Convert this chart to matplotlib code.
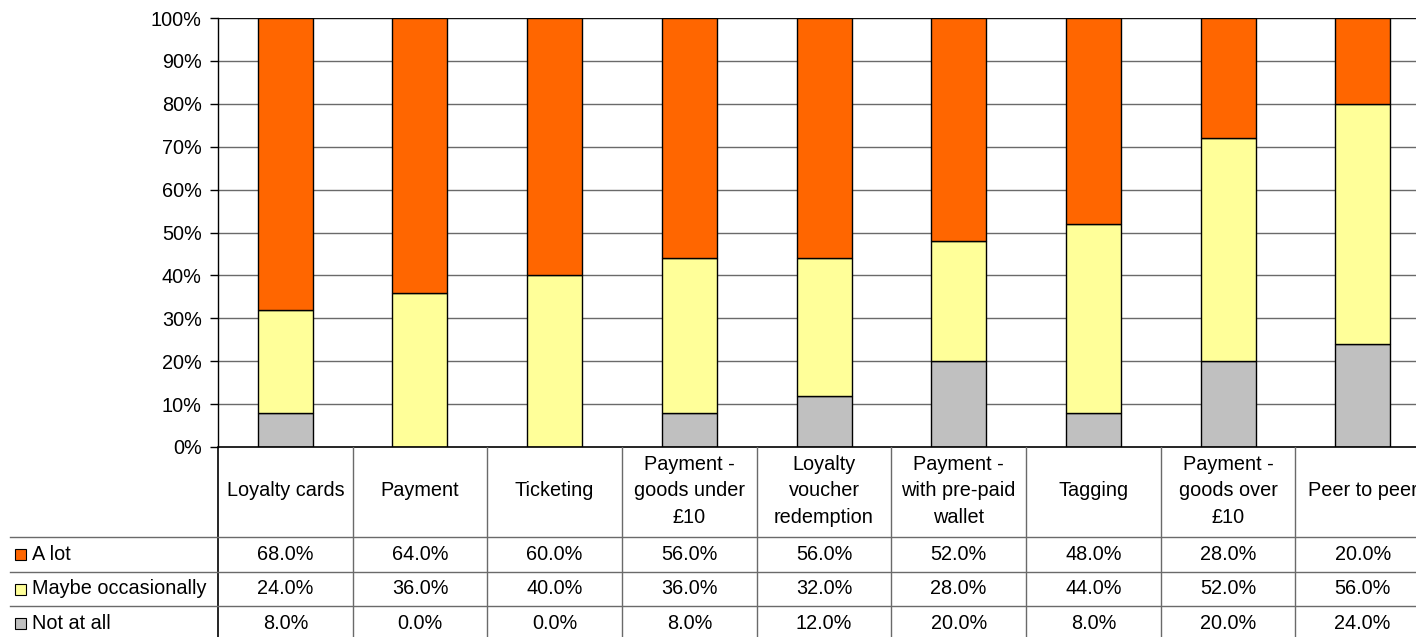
import matplotlib.pyplot as plt
import numpy as np

plt.rcParams["font.family"] = ["Liberation Sans", "DejaVu Sans"]

categories = [
    "Loyalty cards",
    "Payment",
    "Ticketing",
    "Payment -\ngoods under\n£10",
    "Loyalty\nvoucher\nredemption",
    "Payment -\nwith pre-paid\nwallet",
    "Tagging",
    "Payment -\ngoods over\n£10",
    "Peer to peer",
]
a_lot = [68.0, 64.0, 60.0, 56.0, 56.0, 52.0, 48.0, 28.0, 20.0]
maybe_occasionally = [24.0, 36.0, 40.0, 36.0, 32.0, 28.0, 44.0, 52.0, 56.0]
not_at_all = [8.0, 0.0, 0.0, 8.0, 12.0, 20.0, 8.0, 20.0, 24.0]
series_names = ["A lot", "Maybe occasionally", "Not at all"]
series_colors = ["#FF6600", "#FFFF99", "#C0C0C0"]
y_ticks = [0, 10, 20, 30, 40, 50, 60, 70, 80, 90, 100]

W, H = 1416, 637
FS = 14.3
GRID = "#6a6a6a"

# plot area in pixels; it runs past the right edge of the canvas
left, right, top, bottom = 218, 1430, 18, 447
unit = (right - left) / len(categories)

fig = plt.figure(figsize=(W / 100, H / 100), dpi=100)
ax = fig.add_axes([left / W, (H - bottom) / H, (right - left) / W, (bottom - top) / H])

x = np.arange(len(categories))
bar_w = 55 / unit
ax.bar(x, not_at_all, bar_w, color=series_colors[2], edgecolor="black", linewidth=1, zorder=3)
ax.bar(x, maybe_occasionally, bar_w, bottom=not_at_all, color=series_colors[1],
       edgecolor="black", linewidth=1, zorder=3)
ax.bar(x, a_lot, bar_w, bottom=np.add(not_at_all, maybe_occasionally), color=series_colors[0],
       edgecolor="black", linewidth=1, zorder=3)

ax.set_xlim(-0.5, len(categories) - 0.5)
ax.set_ylim(0, 100)
ax.set_yticks(y_ticks)
ax.set_yticklabels([f"{t}%" for t in y_ticks], fontsize=FS)
ax.set_xticks([])
ax.tick_params(axis="y", length=5.8, width=1, color="black", pad=6)
for t in y_ticks[1:]:
    ax.axhline(t, color="#111111" if t == 100 else GRID, linewidth=1, zorder=1)
for side in ("top", "right", "bottom"):
    ax.spines[side].set_visible(False)
ax.spines["left"].set_color("black")
ax.spines["left"].set_linewidth(1)
ax.axhline(0, color="black", linewidth=1.2, zorder=4, clip_on=False)

# data table under the bars, x in category units, y in pixels below the plot
tab = fig.add_axes([0, 0, right / W, (H - bottom) / H])
x0 = -0.5 - left / unit
tab.set_xlim(x0, len(categories) - 0.5)
tab.set_ylim(H - bottom, 0)
tab.axis("off")

header_h, row_h = 90, 34.5
for k in range(len(categories) + 1):
    xv = -0.5 + k
    tab.plot([xv, xv], [0, H - bottom], color="black" if k == 0 else GRID,
             linewidth=1.2 if k == 0 else 1)
for r in range(3):
    yv = header_h + r * row_h
    tab.plot([x0 + 10 / unit, len(categories) - 0.5], [yv, yv], color=GRID, linewidth=1)

for i, name in enumerate(categories):
    tab.text(i, header_h / 2 - 1, name, ha="center", va="center", fontsize=FS, linespacing=1.5)

rows = [a_lot, maybe_occasionally, not_at_all]
for r, (label, values, color) in enumerate(zip(series_names, rows, series_colors)):
    yc = header_h + (r + 0.5) * row_h
    tab.add_patch(plt.Rectangle((x0 + 15 / unit, yc - 5), 11 / unit, 11,
                                facecolor=color, edgecolor="black", linewidth=0.8))
    tab.text(x0 + 32 / unit, yc, label, ha="left", va="center", fontsize=FS)
    for i, v in enumerate(values):
        tab.text(i, yc, f"{v:.1f}%", ha="center", va="center", fontsize=FS)

fig.savefig("out.png", dpi=100)
